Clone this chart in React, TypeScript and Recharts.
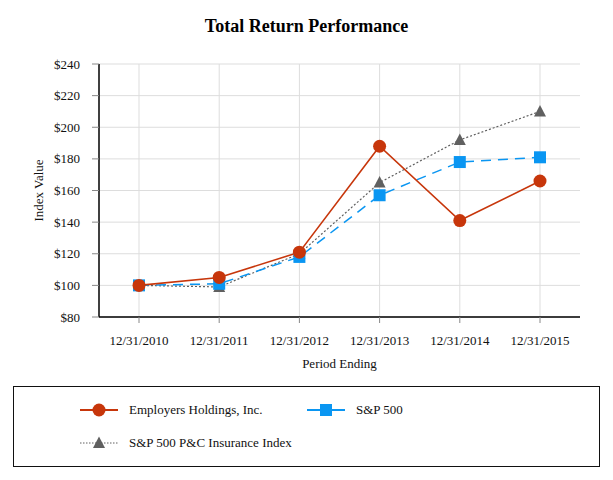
import React from 'react';
import { LineChart, Line, XAxis, YAxis, CartesianGrid, ReferenceLine } from 'recharts';

const periods = ['12/31/2010', '12/31/2011', '12/31/2012', '12/31/2013', '12/31/2014', '12/31/2015'];
const employersValues = [100, 105, 121, 188, 141, 166];
const sp500Values = [100, 101, 118, 157, 178, 181];
const pcIndexValues = [100, 99, 120, 165, 192, 210];
const yTicks = [80, 100, 120, 140, 160, 180, 200, 220, 240];

const data = periods.map((p, i) => ({
  period: p,
  employers: employersValues[i],
  sp500: sp500Values[i],
  pc: pcIndexValues[i],
}));

const FONT = '"Liberation Serif", "DejaVu Serif", serif';

const RED = '#C7360B';
const BLUE = '#0A96F2';
const GRAY = '#606060';
const GRID = '#dddddd';

type Shape = 'circle' | 'square' | 'triangle';

const drawMarker = (shape: Shape, color: string, cx: number, cy: number, key?: any) => {
  if (shape === 'circle') return <circle key={key} cx={cx} cy={cy} r={6.5} fill={color} />;
  if (shape === 'square') return <rect key={key} x={cx - 6} y={cy - 6} width={12} height={12} fill={color} />;
  return <polygon key={key} points={`${cx},${cy - 6.5} ${cx + 6},${cy + 5} ${cx - 6},${cy + 5}`} fill={color} />;
};

const series = [
  { key: 'pc', name: 'S&P 500 P&C Insurance Index', color: GRAY, dash: '2 2', width: 1.2, shape: 'triangle' as Shape },
  { key: 'sp500', name: 'S&P 500', color: BLUE, dash: '10 7', width: 1.5, shape: 'square' as Shape },
  { key: 'employers', name: 'Employers Holdings, Inc.', color: RED, dash: undefined, width: 1.6, shape: 'circle' as Shape },
];

const legendOrder = ['employers', 'sp500', 'pc'];

const LegendSymbol = ({ s }: { s: typeof series[number] }) => (
  <svg width={40} height={16} style={{ display: 'block' }}>
    <line x1={1} y1={8} x2={39} y2={8} stroke={s.color} strokeWidth={s.key === 'pc' ? 1 : 2} strokeDasharray={s.key === 'pc' ? '1.5 1.5' : undefined} />
    {drawMarker(s.shape, s.color, 20, 8)}
  </svg>
);

const ChartLegend = () => {
  const items = legendOrder.map((k) => series.find((s) => s.key === k)!);
  const item = (s: typeof series[number], left: number, top: number) => (
    <div key={s.key} style={{ position: 'absolute', left, top, display: 'flex', alignItems: 'center' }}>
      <LegendSymbol s={s} />
      <span style={{ marginLeft: 10, fontFamily: FONT, fontSize: 13, color: '#111', whiteSpace: 'nowrap' }}>{s.name}</span>
    </div>
  );
  return (
    <div
      style={{
        position: 'absolute',
        left: 13,
        top: 386,
        width: 587,
        height: 81,
        border: '1.5px solid #111',
        boxSizing: 'border-box',
      }}
    >
      {item(items[0], 65, 15)}
      {item(items[1], 292, 15)}
      {item(items[2], 65, 48)}
    </div>
  );
};

export default function App() {
  return (
    <div style={{ position: 'relative', width: 613, height: 480, background: '#fff' }}>
      <style>{`body{margin:0;}`}</style>
      <div
        style={{
          position: 'absolute',
          top: 16,
          left: 0,
          width: 613,
          textAlign: 'center',
          fontFamily: FONT,
          fontWeight: 'bold',
          fontSize: 18,
          color: '#000',
        }}
      >
        Total Return Performance
      </div>
      <LineChart width={613} height={480} data={data} margin={{ top: 64, right: 33, bottom: 0, left: 0 }}>
        <CartesianGrid stroke={GRID} strokeWidth={1} vertical={false} horizontal={true} />
        {periods.map((p) => (
          <ReferenceLine key={p} x={p} stroke={GRID} strokeWidth={1} />
        ))}
        <XAxis
          dataKey="period"
          padding={{ left: 40, right: 40 }}
          axisLine={{ stroke: '#000', strokeWidth: 1.5 }}
          tickLine={{ stroke: '#888' }}
          tickSize={6}
          tickMargin={13}
          height={163}
          tick={{ fill: '#111', fontFamily: FONT, fontSize: 13 }}
          label={{ value: 'Period Ending', position: 'insideTop', offset: 42, fill: '#111', fontFamily: FONT, fontSize: 13 }}
          interval={0}
        />
        <YAxis
          domain={[80, 240]}
          ticks={yTicks}
          width={99}
          axisLine={{ stroke: '#000', strokeWidth: 1.5 }}
          tickLine={{ stroke: '#888' }}
          tickSize={7}
          tickMargin={12}
          tickFormatter={(v: number) => `$${v}`}
          tick={{ fill: '#111', fontFamily: FONT, fontSize: 13 }}
          interval={0}
          label={{ value: 'Index Value', angle: -90, position: 'center', dx: -11, fill: '#111', fontFamily: FONT, fontSize: 13 }}
        />
        {series.map((s) => (
          <Line
            key={s.key}
            dataKey={s.key}
            name={s.name}
            type="linear"
            stroke={s.color}
            strokeWidth={s.width}
            strokeDasharray={s.dash}
            isAnimationActive={false}
            dot={(p: any) => drawMarker(s.shape, s.color, p.cx, p.cy, `${s.key}-${p.index}`)}
            activeDot={false}
          />
        ))}
      </LineChart>
      <ChartLegend />
    </div>
  );
}
